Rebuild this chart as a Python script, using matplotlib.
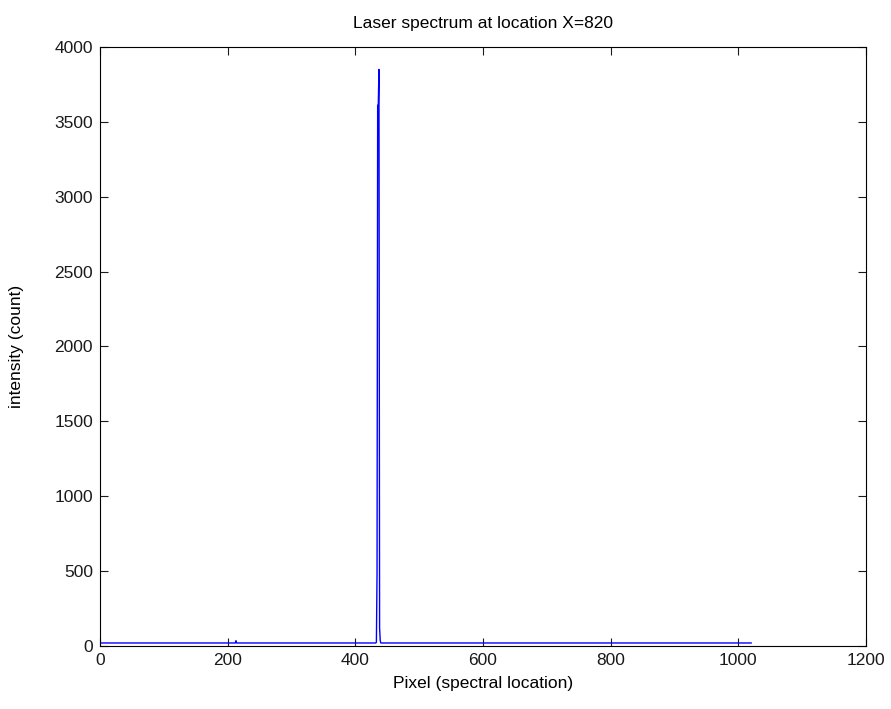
import matplotlib
matplotlib.use('Agg')
import matplotlib.pyplot as plt
import numpy as np

# spectrum: flat baseline ~20 counts, one sharp laser line near pixel 437
n_pixels = 1020
baseline = 20
peak_pixels = [213, 214, 433, 434, 435, 436, 437, 438, 439]
peak_counts = [35, 20, 25, 480, 3610, 3620, 3850, 120, 35]

x_ticks = [0, 200, 400, 600, 800, 1000, 1200]
y_ticks = [0, 500, 1000, 1500, 2000, 2500, 3000, 3500, 4000]

pixels = np.arange(1, n_pixels + 1)
counts = np.full(n_pixels, baseline, dtype=float)
for p, c in zip(peak_pixels, peak_counts):
    counts[p - 1] = c

plt.rcParams['font.family'] = ['Liberation Sans', 'DejaVu Sans']
fig = plt.figure(figsize=(8.91, 7.09), dpi=100)
ax = fig.add_axes([0.1122, 0.0889, 0.8598, 0.8448])

ax.plot(pixels, counts, color='#0000ff', linewidth=1.0)

ax.set_xlim(0, 1200)
ax.set_ylim(0, 4000)
ax.set_xticks(x_ticks)
ax.set_yticks(y_ticks)
ax.tick_params(direction='in', length=6, width=0.8, top=True, right=True,
               labelsize=12.5, pad=5, colors='#1a1a1a')
for s in ax.spines.values():
    s.set_linewidth(0.8)

ax.set_title('Laser spectrum at location X=820', fontsize=12.5, pad=14)
ax.set_xlabel('Pixel (spectral location)', fontsize=12.5, labelpad=6)
ax.set_ylabel('intensity (count)', fontsize=12.5, labelpad=22)

fig.savefig('out.png', dpi=100)
